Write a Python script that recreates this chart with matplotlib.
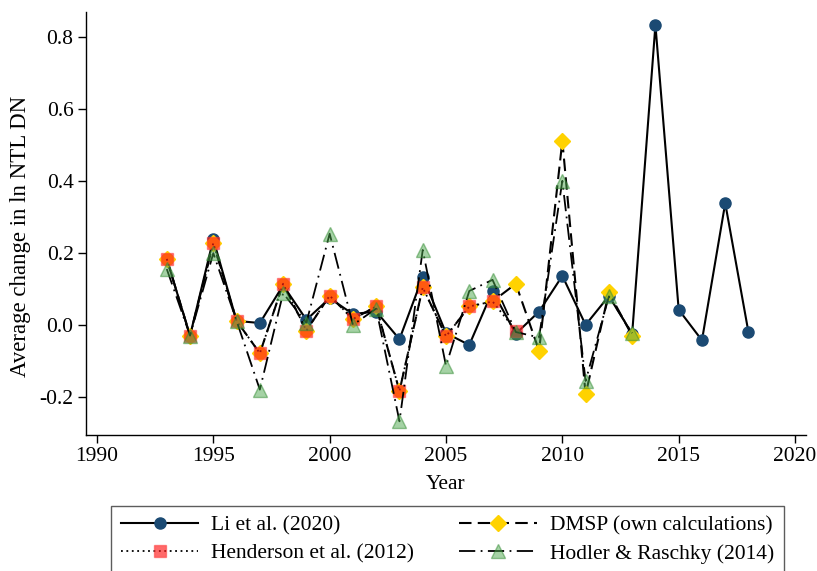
import numpy as np
import matplotlib.pyplot as plt

plt.rcParams['font.family'] = ['Liberation Serif', 'DejaVu Serif']

# yearly average change in ln NTL DN, by source
li_years = list(range(1993, 2019))
li_vals = [0.183, -0.030, 0.238, 0.011, 0.005, 0.110, 0.014, 0.074, 0.030, 0.037,
           -0.040, 0.134, -0.023, -0.056, 0.094, -0.025, 0.037, 0.136, 0.000, 0.080,
           -0.025, 0.833, 0.042, -0.043, 0.338, -0.021]

dmsp_years = list(range(1993, 2014))
dmsp_vals = [0.183, -0.030, 0.227, 0.011, -0.079, 0.114, -0.016, 0.081, 0.016, 0.051,
             -0.184, 0.104, -0.032, 0.051, 0.065, 0.114, -0.072, 0.511, -0.193, 0.090,
             -0.030]

hend_years = list(range(1993, 2009))
hend_vals = [0.183, -0.030, 0.227, 0.011, -0.079, 0.114, -0.016, 0.081, 0.016, 0.051,
             -0.184, 0.104, -0.032, 0.051, 0.065, -0.016]

hodler_years = list(range(1993, 2014))
hodler_vals = [0.155, -0.030, 0.199, 0.011, -0.180, 0.088, 0.006, 0.253, 0.000, 0.045,
               -0.268, 0.208, -0.114, 0.094, 0.125, -0.020, -0.035, 0.400, -0.156, 0.079,
               -0.023]

FS = 15.5

li_style = dict(color='black', lw=1.5, marker='o', ms=8, mfc='#1b4a73', mec='#1b4a73')
dm_style = dict(color='black', lw=1.5, ls=(0, (6, 3)), marker='D', ms=8.5,
                mfc='#ffd200', mec='#ffd200')
he_line = dict(color='black', lw=1.3, ls=(0, (1, 2)))
he_mark = dict(marker='s', ms=8.5, mfc=(1, 0.1, 0.1, 0.65), mec=(1, 0.2, 0.2, 0.5))
ho_line = dict(color='black', lw=1.3, ls=(0, (9, 3, 1, 3)))
ho_mark = dict(marker='^', ms=9.5, mfc=(0.3, 0.65, 0.3, 0.5), mec=(0.2, 0.55, 0.2, 0.5))

fig = plt.figure(figsize=(8.17, 5.71), dpi=100)
ax = fig.add_axes([0.1053, 0.2382, 0.8812, 0.7408])

ax.plot(li_years, li_vals, zorder=2, **li_style)
ax.plot(dmsp_years, dmsp_vals, zorder=3, **dm_style)
ax.plot(hend_years, hend_vals, zorder=4, **he_line)
ax.plot(hend_years, hend_vals, ls='none', zorder=4, **he_mark)
ax.plot(hodler_years, hodler_vals, zorder=5, **ho_line)
ax.plot(hodler_years, hodler_vals, ls='none', zorder=5, **ho_mark)

# legend proxies combining line and marker
h_li, = ax.plot([], [], **li_style)
h_dm, = ax.plot([], [], **dm_style)
h_he, = ax.plot([], [], **he_line, **he_mark)
h_ho, = ax.plot([], [], **ho_line, **ho_mark)

ax.set_xlim(1989.53, 2020.47)
ax.set_ylim(-0.306, 0.869)
ax.set_xticks(np.arange(1990, 2021, 5))
ax.set_yticks(np.arange(-0.2, 0.81, 0.2))
ax.set_yticklabels(['-0.2', '0.0', '0.2', '0.4', '0.6', '0.8'])
ax.tick_params(labelsize=FS, length=6, width=1, direction='out', pad=3)
for s in ['top', 'right']:
    ax.spines[s].set_visible(False)
for s in ['left', 'bottom']:
    ax.spines[s].set_linewidth(1.0)
ax.set_xlabel('Year', fontsize=FS, labelpad=6)
ax.set_ylabel('Average change in ln NTL DN', fontsize=16.5)
ax.yaxis.set_label_coords(-0.077, 0.47)

leg = fig.legend([h_li, h_he, h_dm, h_ho],
                 ['Li et al. (2020)', 'Henderson et al. (2012)',
                  'DMSP (own calculations)', 'Hodler & Raschky (2014)'],
                 ncol=2, loc='upper center', bbox_to_anchor=(0.5477, 0.1135),
                 borderaxespad=0, fontsize=FS, frameon=True, fancybox=False,
                 edgecolor='#333333', handlelength=3.6, columnspacing=2.1,
                 handletextpad=0.6, labelspacing=0.35, borderpad=0.45)
leg.get_frame().set_linewidth(1.0)

fig.savefig('out.png', dpi=100)
